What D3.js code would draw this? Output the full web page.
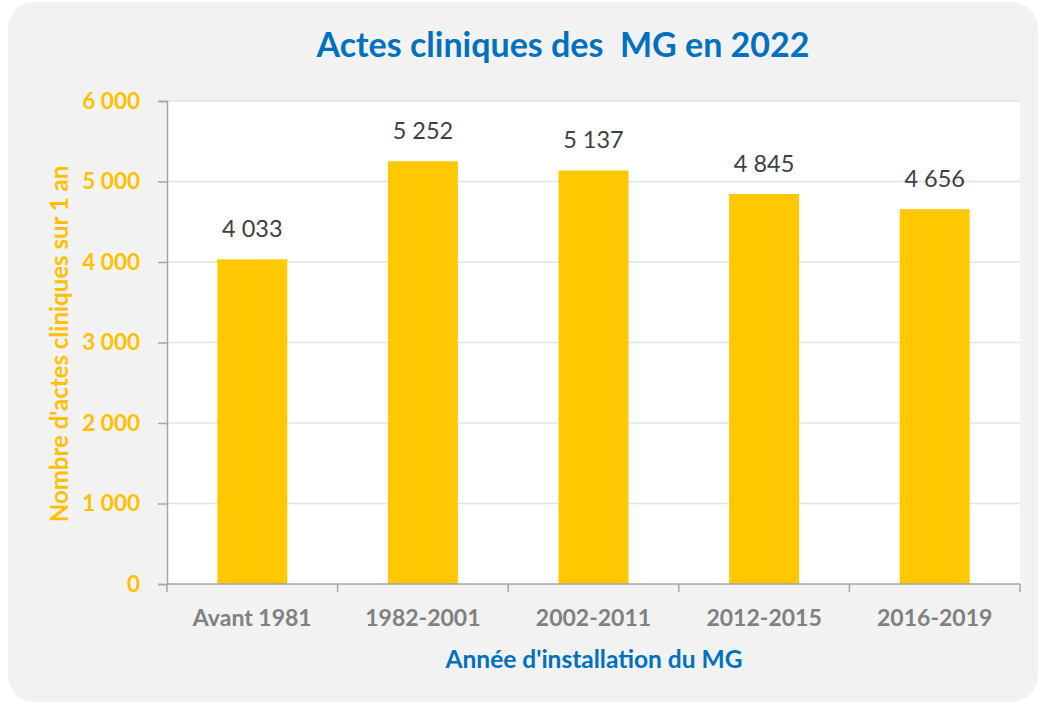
<!DOCTYPE html>
<html>
<head>
<meta charset="utf-8">
<script src="https://cdn.jsdelivr.net/npm/d3@7.9.0/dist/d3.min.js"></script>
<style>
  html, body { margin: 0; padding: 0; background: #ffffff; }
  svg { display: block; font-family: Lato, "Open Sans", sans-serif; }
</style>
</head>
<body>
<div id="chart"></div>
<script>
// Chart data
const periods = ["Avant 1981", "1982-2001", "2002-2011", "2012-2015", "2016-2019"];
const actes = [4033, 5252, 5137, 4845, 4656];
const yTicks = [0, 1000, 2000, 3000, 4000, 5000, 6000];

const chartTitle = "Actes cliniques des\u00a0 MG en 2022";
const xTitle = "Année d'installation du MG";
const yTitle = "Nombre d'actes cliniques sur 1 an";

const W = 1043, H = 703;
const margin = { top: 101, right: 23, bottom: 119, left: 167 };
const width = W - margin.left - margin.right;
const height = H - margin.top - margin.bottom;

// French number format: space as group separator
const fmt = (v) => d3.format(",")(v).replace(/,/g, " ");

const svg = d3.select("#chart")
  .append("svg")
  .attr("width", W)
  .attr("height", H);

// Card background
svg.append("rect")
  .attr("x", 8).attr("y", 2)
  .attr("width", 1030).attr("height", 700)
  .attr("rx", 26)
  .attr("fill", "#f2f2f2");

const g = svg.append("g")
  .attr("transform", `translate(${margin.left},${margin.top})`);

const x = d3.scaleBand()
  .domain(periods)
  .range([0, width])
  .paddingInner(0.59)
  .paddingOuter(0.295);

const xBand = d3.scaleBand().domain(periods).range([0, width]);

const y = d3.scaleLinear()
  .domain([0, 6000])
  .range([height, 0]);

// Plot area
g.append("rect")
  .attr("width", width)
  .attr("height", height)
  .attr("fill", "#ffffff");

// Gridlines
g.append("g")
  .selectAll("line")
  .data(yTicks.filter((d) => d > 0))
  .join("line")
  .attr("x1", 0).attr("x2", width)
  .attr("y1", (d) => y(d)).attr("y2", (d) => y(d))
  .attr("stroke", "#e3e3e3")
  .attr("stroke-width", 1.5);

// Bars
g.selectAll(".bar")
  .data(actes)
  .join("rect")
  .attr("class", "bar")
  .attr("x", (d, i) => x(periods[i]))
  .attr("width", x.bandwidth())
  .attr("y", (d) => y(d))
  .attr("height", (d) => y(0) - y(d))
  .attr("fill", "#ffc800");

// Value labels
g.selectAll(".val")
  .data(actes)
  .join("text")
  .attr("class", "val")
  .attr("x", (d, i) => x(periods[i]) + x.bandwidth() / 2)
  .attr("y", (d) => y(d) - 22)
  .attr("text-anchor", "middle")
  .attr("font-size", 23.5)
  .attr("fill", "#404040")
  .text((d) => fmt(d));

// Y axis
const yAxis = g.append("g")
  .call(d3.axisLeft(y).tickValues(yTicks).tickSize(9).tickPadding(18).tickFormat(fmt));
yAxis.select(".domain").attr("stroke", "#a6a6a6").attr("stroke-width", 1.5);
yAxis.selectAll(".tick line").attr("stroke", "#a6a6a6").attr("stroke-width", 1.5);
yAxis.selectAll("text")
  .attr("fill", "#ffc000")
  .attr("font-size", 22.5)
  .attr("font-weight", "bold")
  .attr("font-family", "Lato, sans-serif");

// X axis: ticks at band boundaries
const xAxisG = g.append("g").attr("transform", `translate(0,${height})`);
xAxisG.append("line")
  .attr("x1", 0).attr("x2", width)
  .attr("stroke", "#a6a6a6").attr("stroke-width", 1.5);
xAxisG.selectAll(".xtick")
  .data(periods.concat(["end"]))
  .join("line")
  .attr("x1", (d, i) => (i < periods.length ? xBand(d) : width))
  .attr("x2", (d, i) => (i < periods.length ? xBand(d) : width))
  .attr("y1", 0).attr("y2", 8)
  .attr("stroke", "#a6a6a6").attr("stroke-width", 1.5);
xAxisG.selectAll(".xlab")
  .data(periods)
  .join("text")
  .attr("x", (d) => xBand(d) + xBand.bandwidth() / 2)
  .attr("y", 42)
  .attr("text-anchor", "middle")
  .attr("font-size", 23)
  .attr("font-weight", "bold")
  .attr("fill", "#808080")
  .text((d) => d);

// Title
svg.append("text")
  .attr("x", 563)
  .attr("y", 57)
  .attr("text-anchor", "middle")
  .attr("font-size", 34)
  .attr("font-weight", "bold")
  .attr("fill", "#0070c0")
  .text(chartTitle);

// X axis title
svg.append("text")
  .attr("x", 594)
  .attr("y", 668)
  .attr("text-anchor", "middle")
  .attr("font-size", 24.5)
  .attr("font-weight", "bold")
  .attr("fill", "#0070c0")
  .text(xTitle);

// Y axis title
svg.append("text")
  .attr("transform", `translate(68,344) rotate(-90)`)
  .attr("text-anchor", "middle")
  .attr("font-size", 24)
  .attr("font-weight", "bold")
  .attr("fill", "#ffc000")
  .text(yTitle);
</script>
</body>
</html>
